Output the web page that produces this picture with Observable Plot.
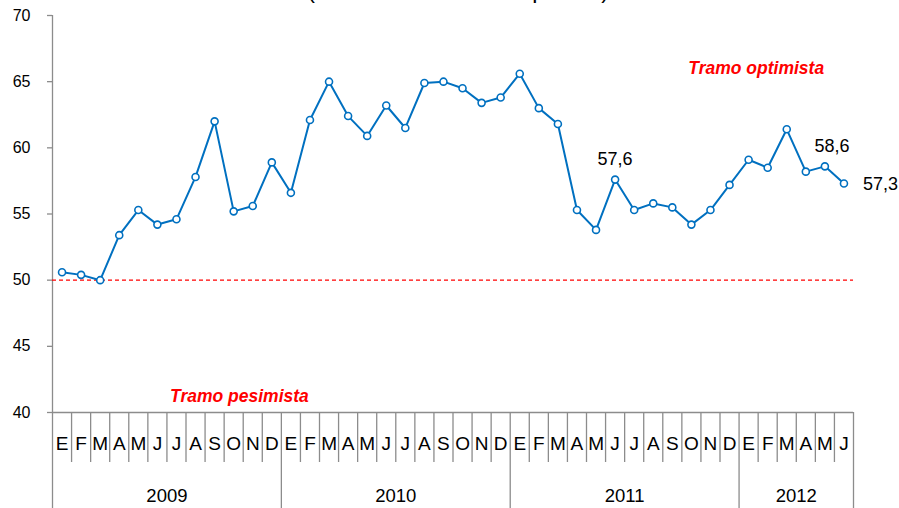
<!DOCTYPE html>
<html>
<head>
<meta charset="utf-8">
<script src="https://cdn.jsdelivr.net/npm/d3@7"></script>
<script src="https://cdn.jsdelivr.net/npm/@observablehq/plot@0.6"></script>
<style>
  body { margin: 0; background: #fff; }
</style>
</head>
<body>
<div id="chart"></div>
<script>
const title = "(Índice de difusión en puntos)";
const months = ["E","F","M","A","M","J","J","A","S","O","N","D"];
const years = ["2009","2010","2011","2012"];
const values = [
  50.6, 50.4, 50.0, 53.4, 55.3, 54.2, 54.6, 57.8, 62.0, 55.2, 55.6, 58.9,
  56.6, 62.1, 65.0, 62.4, 60.9, 63.2, 61.5, 64.9, 65.0, 64.5, 63.4, 63.8,
  65.6, 63.0, 61.8, 55.3, 53.8, 57.6, 55.3, 55.8, 55.5, 54.2, 55.3, 57.2,
  59.1, 58.5, 61.4, 58.2, 58.6, 57.3
];
const yTicks = [40, 45, 50, 55, 60, 65, 70];
const threshold = 50;
const zones = [
  {label: "Tramo optimista", i: 36.9, value: 65.6},
  {label: "Tramo pesimista", i: 9.8, value: 40.8}
];

const data = values.map((v, i) => ({i, c: i + 0.5, month: months[i % 12], year: years[Math.floor(i / 12)], value: v}));
const n = data.length;
const fmt = v => v.toFixed(1).replace(".", ",");

// boundaries
const yearStarts = d3.range(0, n, 12).concat([n]);
const monthBounds = d3.range(1, n).filter(k => k % 12 !== 0);
const yearCenters = years.map((y, k) => (k * 12 + Math.min(n, (k + 1) * 12)) / 2);
const yearByCenter = new Map(yearCenters.map((c, k) => [c, years[k]]));

const gray = "#8c8c8c";
const blue = "#0070c0";
const red = "#ff0000";

const chart = Plot.plot({
  width: 899,
  height: 508,
  marginLeft: 52,
  marginRight: 46,
  marginTop: 15,
  marginBottom: 96,
  style: {fontFamily: "'Liberation Sans', Arial, sans-serif", fontSize: "16px", color: "#000", background: "#fff", overflow: "visible"},
  x: {type: "linear", domain: [0, n], axis: null},
  y: {domain: [40, 70], axis: null},
  marks: [
    Plot.axisY({ticks: yTicks, tickSize: 5, tickPadding: 17, fontSize: 16, stroke: gray, strokeOpacity: 1, strokeWidth: 1.3, label: null}),
    Plot.ruleX([0], {stroke: gray, strokeWidth: 1.3}),
    Plot.ruleY([40], {stroke: gray, strokeWidth: 1.3}),
    Plot.axisX({ticks: monthBounds, tickSize: 50, tickFormat: () => "", stroke: gray, strokeOpacity: 1, strokeWidth: 1.3, label: null}),
    Plot.axisX({ticks: yearStarts, tickSize: 96, tickFormat: () => "", stroke: gray, strokeOpacity: 1, strokeWidth: 1.3, label: null}),
    Plot.axisX({ticks: data.map(d => d.c), tickSize: 0, tickPadding: 24, fontSize: 19, tickFormat: d => months[Math.floor(d) % 12], label: null}),
    Plot.axisX({ticks: yearCenters, tickSize: 0, tickPadding: 76, fontSize: 18.5, tickFormat: d => yearByCenter.get(d), label: null}),
    Plot.ruleY([threshold], {stroke: red, strokeWidth: 1.3, strokeDasharray: "4,3"}),
    Plot.line(data, {x: "c", y: "value", stroke: blue, strokeWidth: 2}),
    Plot.dot(data, {x: "c", y: "value", r: 3.5, fill: "#fff", stroke: blue, strokeWidth: 1.6}),
    Plot.text(data.filter(d => d.i === 29), {x: "c", y: "value", text: d => fmt(d.value), dy: -20, fontSize: 18}),
    Plot.text(data.filter(d => d.i === 40), {x: "c", y: "value", text: d => fmt(d.value), dy: -20, dx: 7, fontSize: 18}),
    Plot.text(data.filter(d => d.i === n - 1), {x: "c", y: "value", text: d => fmt(d.value), dx: 19, dy: 1, textAnchor: "start", fontSize: 18}),
    Plot.text(zones, {x: "i", y: "value", text: "label", fill: red, fontWeight: "bold", fontStyle: "italic", fontSize: 17.5, lineAnchor: "bottom"}),
    Plot.text([title], {frameAnchor: "top", dx: 5, dy: -33.5, fontSize: 23})
  ]
});
document.getElementById("chart").append(chart);
</script>
</body>
</html>
